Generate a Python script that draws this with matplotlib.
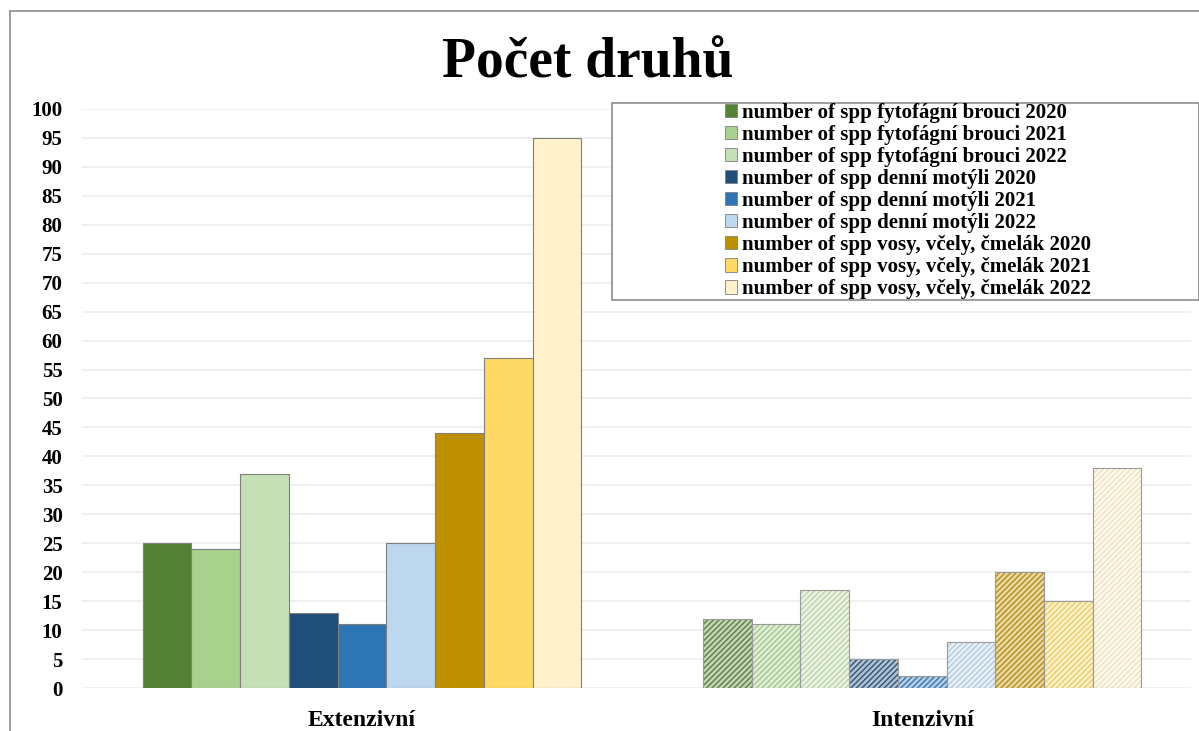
import matplotlib.pyplot as plt
import matplotlib.patches as mpatches
import numpy as np
from matplotlib.colors import to_rgb

plt.rcParams['font.family'] = ['Liberation Serif', 'DejaVu Serif']

groups = ['Extenzivní', 'Intenzivní']
series = ['number of spp fytofágní brouci 2020',
          'number of spp fytofágní brouci 2021',
          'number of spp fytofágní brouci 2022',
          'number of spp denní motýli 2020',
          'number of spp denní motýli 2021',
          'number of spp denní motýli 2022',
          'number of spp vosy, včely, čmelák 2020',
          'number of spp vosy, včely, čmelák 2021',
          'number of spp vosy, včely, čmelák 2022']
extenzivni = [25, 24, 37, 13, 11, 25, 44, 57, 95]
intenzivni = [12, 11, 17, 5, 2, 8, 20, 15, 38]
colors = ['#548235', '#A9D18E', '#C5E0B4',
          '#1F4E79', '#2E75B6', '#BDD7EE',
          '#BF9000', '#FFD966', '#FFF2CC']

fig = plt.figure(figsize=(11.99, 7.31), dpi=100)
ax = fig.add_axes([82/1199, 0.0588, 1109/1199, 0.7922])

# outer chart border (top and left visible)
fig.add_artist(plt.Line2D([10/1199, 1.0], [1 - 11/731, 1 - 11/731], color='#8c8c8c', lw=1.2))
fig.add_artist(plt.Line2D([10/1199, 10/1199], [0, 1 - 11/731], color='#8c8c8c', lw=1.2))

x = np.arange(len(groups))
w = 0.087
n = len(series)
plt.rcParams['hatch.linewidth'] = 1.0
for i in range(n):
    off = (i - (n - 1) / 2) * w
    # extenzivni: solid
    ax.bar(x[0] + off, extenzivni[i], w, color=colors[i], edgecolor='#7f7f7f', linewidth=0.8, zorder=3)
    # intenzivni: hatched lighter
    c = np.array(to_rgb(colors[i]))
    light = c * 0.35 + 0.65
    ax.bar(x[1] + off, intenzivni[i], w, color=light, linewidth=0, zorder=3)
    ax.bar(x[1] + off, intenzivni[i], w, facecolor='none', edgecolor=c * 0.85 + 0.15 * 0.5,
           hatch='//////', linewidth=0, zorder=4)
    ax.bar(x[1] + off, intenzivni[i], w, facecolor='none', edgecolor='#9a9a9a', linewidth=0.8, zorder=5)

ax.set_xlim(-0.5, 1.48)
ax.set_ylim(0, 100)
ax.set_yticks(range(0, 101, 5))
ax.set_xticks(x)
ax.set_xticklabels(groups, fontsize=17, fontweight='bold')
ax.tick_params(axis='y', labelsize=15, length=0, pad=14)
ax.tick_params(axis='x', length=0, pad=16)
for lbl in ax.get_yticklabels():
    lbl.set_fontweight('bold')
ax.grid(axis='y', color='#ececec', linewidth=1.2, zorder=0)
for s in ax.spines.values():
    s.set_visible(False)

fig.text(0.49, 0.913, 'Počet druhů', ha='center', va='center', fontsize=40, fontweight='bold')

# legend box
fig.add_artist(mpatches.Rectangle((612/1199, 1 - 300/731), 587/1199, 197/731,
                                  transform=fig.transFigure, facecolor='white',
                                  edgecolor='#8c8c8c', linewidth=1.2, zorder=6))
handles = [mpatches.Patch(facecolor=colors[i], edgecolor='#7f7f7f', linewidth=0.6) for i in range(n)]
leg = fig.legend(handles, series, loc='center', bbox_to_anchor=(908/1199, 1 - 201/731),
                 frameon=False, prop={'size': 15, 'weight': 'bold'},
                 handlelength=0.6, handleheight=0.6, handletextpad=0.25, labelspacing=0.1,
                 borderpad=0)
leg.set_zorder(7)

fig.savefig('out.png', dpi=100)
